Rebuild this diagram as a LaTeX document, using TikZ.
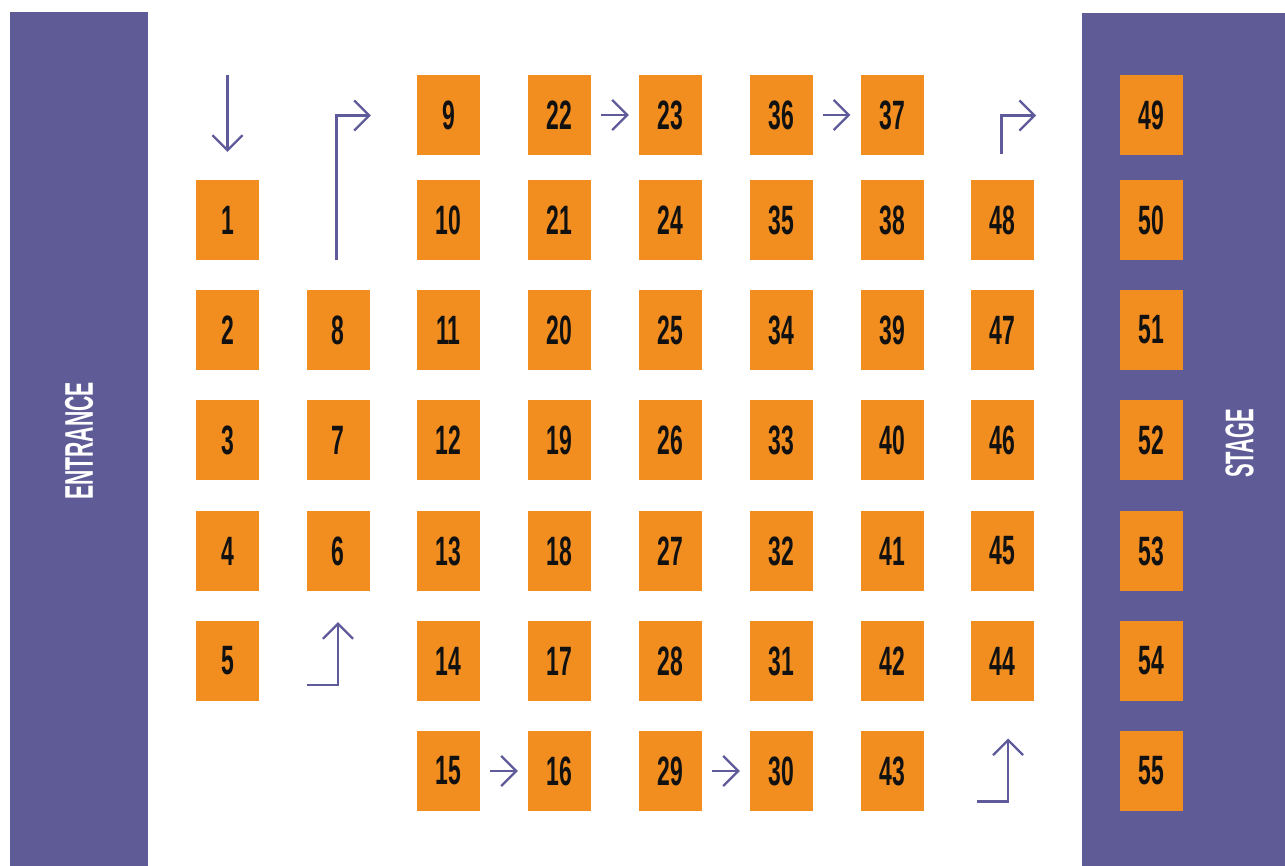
\documentclass[tikz,border=0pt]{standalone}
\usepackage{fontspec}
\usepackage{graphicx}
\setmainfont{Liberation Sans}
\usetikzlibrary{arrows.meta}
\definecolor{barpurple}{HTML}{5E5B97}
\definecolor{linepurple}{HTML}{5F5A99}
\definecolor{seatorange}{HTML}{F28E1F}
\definecolor{numblack}{HTML}{111111}
\newcommand\seatlabel[1]{\scalebox{0.56}[1]{#1}}
\tikzset{
  seat/.style={fill=seatorange, minimum width=63pt, minimum height=80pt, inner sep=0pt,
    text=numblack, font=\fontsize{41}{41}\selectfont\bfseries},
  bar/.style={fill=barpurple, draw=none},
  flow/.style={draw=linepurple, line width=2.3pt, -{Straight Barb[length=15pt,width=30pt,line width=2.3pt]}},
  gap/.style={shorten <=10pt, shorten >=10pt},
  barlabel/.style={text=white, font=\fontsize{40}{40}\selectfont\bfseries, rotate=90, inner sep=0pt}
}
\begin{document}
\begin{tikzpicture}[x=1pt,y=-1pt]
\useasboundingbox (0,0) rectangle (1285,866);
\fill[white] (0,0) rectangle (1285,866);
% bars
\node[bar, minimum width=138pt, minimum height=854pt, inner sep=0pt, anchor=north west] (entrance) at (10,12) {};
\node[bar, minimum width=203pt, minimum height=853pt, inner sep=0pt, anchor=north west] (stage) at (1082,13) {};
\node[barlabel] (entrancetext) at (79,441) {\scalebox{0.53}[1]{ENTRANCE}};
\node[barlabel] (stagetext) at (1239.5,443.5) {\scalebox{0.51}[1]{STAGE}};
% column 1
\foreach \n/\y in {1/220,2/330,3/440,4/551,5/661}
  \node[seat] (b\n) at (227.5,\y) {\seatlabel{\n}};
% column 2
\foreach \n/\y in {8/330,7/440,6/551}
  \node[seat] (b\n) at (338,\y) {\seatlabel{\n}};
% columns 3-7 and 9
\foreach \n/\y in {9/115,10/220,11/330,12/440,13/551,14/661,15/771}
  \node[seat] (b\n) at (448.5,\y) {\seatlabel{\n}};
\foreach \n/\y in {22/115,21/220,20/330,19/440,18/551,17/661,16/771}
  \node[seat] (b\n) at (559.5,\y) {\seatlabel{\n}};
\foreach \n/\y in {23/115,24/220,25/330,26/440,27/551,28/661,29/771}
  \node[seat] (b\n) at (670.5,\y) {\seatlabel{\n}};
\foreach \n/\y in {36/115,35/220,34/330,33/440,32/551,31/661,30/771}
  \node[seat] (b\n) at (781.5,\y) {\seatlabel{\n}};
\foreach \n/\y in {37/115,38/220,39/330,40/440,41/551,42/661,43/771}
  \node[seat] (b\n) at (892,\y) {\seatlabel{\n}};
\foreach \n/\y in {48/220,47/330,46/440,45/551,44/661}
  \node[seat] (b\n) at (1002.5,\y) {\seatlabel{\n}};
\foreach \n/\y in {49/115,50/220,51/330,52/440,53/551,54/661,55/771}
  \node[seat] (b\n) at (1151.5,\y) {\seatlabel{\n}};
% straight arrows between seats
\draw[flow, gap] (b22) -- (b23);
\draw[flow, gap] (b36) -- (b37);
\draw[flow, gap] (b15) -- (b16);
\draw[flow, gap] (b29) -- (b30);
% entry arrow
\coordinate (a1s) at (227.5,75);
\draw[flow] (a1s) -- ([yshift=28pt]b1.north);
% elbow up from 5 towards 6
\coordinate (a2s) at (306.5,685);
\coordinate (a2c) at (338,685);
\draw[flow] (a2s) -- (a2c) -- ([yshift=-31pt]b6.south);
% elbow from above 8 to 9
\coordinate (a3s) at (336.5,260);
\coordinate (a3c) at (336.5,115.5);
\draw[flow] (a3s) -- (a3c) -- ([xshift=-46pt]b9.west |- a3c);
% elbow up to 44
\coordinate (a4s) at (976.5,801.5);
\coordinate (a4c) at (1008,801.5);
\coordinate (a4e) at (1008,738.5);
\draw[flow] (a4s) -- (a4c) -- (a4e);
% elbow from 48 to stage row
\coordinate (a5s) at (1001.5,154);
\coordinate (a5c) at (1001.5,115.5);
\coordinate (a5e) at (1036,115.5);
\draw[flow] (a5s) -- (a5c) -- (a5e);
\end{tikzpicture}
\end{document}
